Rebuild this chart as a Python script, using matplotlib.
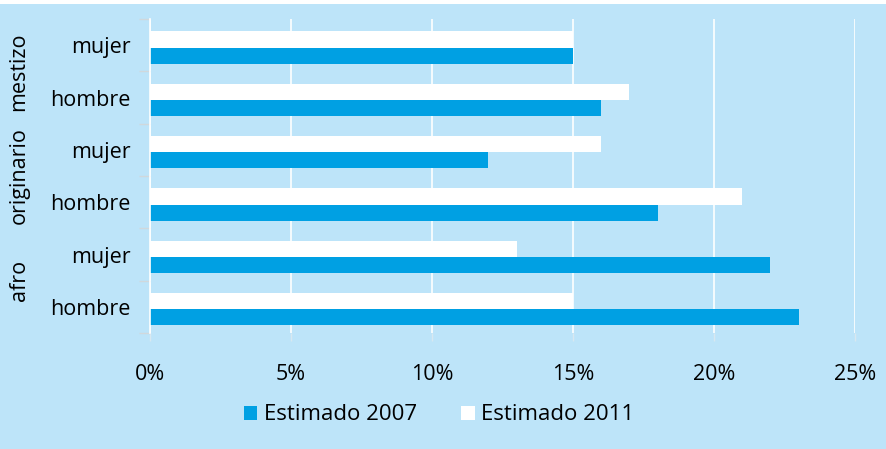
import matplotlib
matplotlib.use("Agg")
import matplotlib.pyplot as plt
from matplotlib.patches import Rectangle
import matplotlib.transforms as mtransforms

plt.rcParams['font.family'] = ['Open Sans', 'DejaVu Sans']

# data, bottom to top
sexo = ['hombre', 'mujer', 'hombre', 'mujer', 'hombre', 'mujer']
grupos = ['afro', 'originario', 'mestizo']
est_2007 = [23, 22, 18, 12, 16, 15]
est_2011 = [15, 13, 21, 16, 17, 15]
x_ticks = [0, 5, 10, 15, 20, 25]

BG = '#bde4f9'
BLUE = '#00a0e3'

fig = plt.figure(figsize=(8.87, 4.49), dpi=100, facecolor='white')
fig.patches.append(Rectangle((0, 0), 1, 445 / 449, transform=fig.transFigure,
                             facecolor=BG, edgecolor='none', zorder=-10))

ax = fig.add_axes([150 / 887, 1 - 333 / 449, 705 / 887, 314 / 449])
ax.set_facecolor('none')

ys = list(range(len(sexo)))
h = 0.31
ax.barh([y - 0.2 for y in ys], est_2007, height=h, color=BLUE, label='Estimado 2007', zorder=3)
ax.barh([y + 0.11 for y in ys], est_2011, height=h, color='white', label='Estimado 2011', zorder=3)

ax.set_xlim(0, 25)
ax.set_ylim(-0.5, 5.5)
ax.set_xticks(x_ticks)
ax.set_xticklabels([f'{t}%' for t in x_ticks])
ax.xaxis.grid(True, color='white', linewidth=1.2, zorder=1)
ax.tick_params(axis='x', length=6, width=1, color='#d8e8f0', pad=16, labelsize=15.5)

ax.set_yticks(ys)
ax.set_yticklabels(sexo)
ax.set_yticks([y - 0.5 for y in range(len(sexo) + 1)], minor=True)
ax.tick_params(axis='y', which='major', length=0, pad=14, labelsize=15.5)
ax.tick_params(axis='y', which='minor', length=8, width=1, color='#d0d8dc')

for s in ['top', 'right', 'bottom']:
    ax.spines[s].set_visible(False)
ax.spines['left'].set_color('white')
ax.spines['left'].set_linewidth(1.2)
ax.spines['left'].set_zorder(4)

trans = mtransforms.blended_transform_factory(ax.transAxes, ax.transData)
for i, g in enumerate(grupos):
    ax.text(-131 / 705, 2 * i + 0.5, g, transform=trans, rotation=90,
            ha='center', va='center', fontsize=15.5)

fig.legend(loc='center', bbox_to_anchor=(0.495, 1 - 415 / 449), ncol=2, frameon=False,
           fontsize=16, handlelength=0.6, handleheight=0.6, handletextpad=0.3,
           columnspacing=2.0)

fig.savefig('out.png', dpi=100, facecolor='white')
